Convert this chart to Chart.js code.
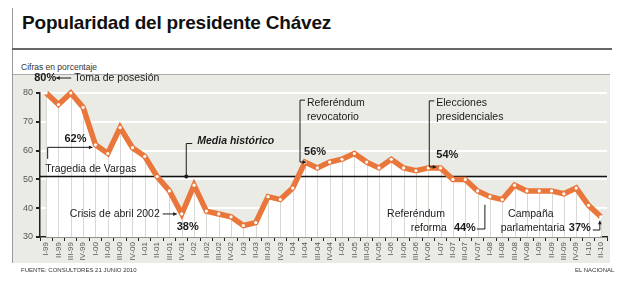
<!DOCTYPE html>
<html>
<head>
<meta charset="utf-8">
<script src="https://cdn.jsdelivr.net/npm/chart.js@4.4.1/dist/chart.umd.min.js"></script>
<style>
  body { margin: 0; background: #fff; font-family: "Liberation Sans", Arial, sans-serif; }
  #hoja { position: relative; width: 622px; height: 284px; overflow: hidden; background: #fff; }
  .borde { position: absolute; left: 12px; top: 8px; width: 1px; height: 255px; background: #9a9a9a; }
  h1 { position: absolute; left: 22px; top: 13px; margin: 0; font-size: 19px; line-height: 1; font-weight: bold; color: #111; letter-spacing: -0.2px; }
  .raya { position: absolute; left: 12px; top: 48px; width: 600px; height: 2px; background: #666; }
  .cifras { position: absolute; left: 21px; top: 63px; font-size: 8.5px; line-height: 1; color: #333; }
  .panel { position: absolute; left: 13px; top: 74px; width: 597px; height: 188px; background: #ebebe6; border-top: 1px solid #aaa; }
  canvas { position: absolute; left: 0; top: 0; }
  .fuente { position: absolute; left: 21px; top: 267px; font-size: 6px; line-height: 1; color: #333; }
  .medio { position: absolute; left: 575px; top: 267px; font-size: 6px; line-height: 1; color: #333; }
</style>
</head>
<body>
<div id="hoja">
  <div class="borde"></div>
  <h1>Popularidad del presidente Chávez</h1>
  <div class="raya"></div>
  <div class="cifras">Cifras en porcentaje</div>
  <div class="panel"></div>
  <canvas id="grafico" width="622" height="284"></canvas>
  <div class="fuente">FUENTE: CONSULTORES 21 JUNIO 2010</div>
  <div class="medio">EL NACIONAL</div>
</div>
<script>
// Trimestres de I-99 a II-10
const trimestres = [
  'I-99', 'II-99', 'III-99', 'IV-99',
  'I-00', 'II-00', 'III-00', 'IV-00',
  'I-01', 'II-01', 'III-01', 'IV-01',
  'I-02', 'II-02', 'III-02', 'IV-02',
  'I-03', 'II-03', 'III-03', 'IV-03',
  'I-04', 'II-04', 'III-04', 'IV-04',
  'I-05', 'II-05', 'III-05', 'IV-05',
  'I-06', 'II-06', 'III-06', 'IV-06',
  'I-07', 'II-07', 'III-07', 'IV-07',
  'I-08', 'II-08', 'III-08', 'IV-08',
  'I-09', 'II-09', 'III-09', 'IV-09',
  'I-10', 'II-10'
];

// Popularidad en porcentaje
const popularidad = [
  80, 76, 80, 75,
  62, 59, 68, 61,
  58, 51, 46, 38,
  48, 39, 38, 37,
  34, 35, 44, 43,
  47, 56, 54, 56,
  57, 59, 56, 54,
  57, 54, 53, 54,
  54, 50, 50, 46,
  44, 43, 48, 46,
  46, 46, 45, 47,
  41, 37
];

const mediaHistorica = 51;
const marcasEjeY = [30, 40, 50, 60, 70, 80];

const naranja = '#e9773b';
const fuente = '"Liberation Sans", Arial, sans-serif';

// dibuja una flecha simple
function flecha(ctx, x1, y1, x2, y2) {
  ctx.beginPath();
  ctx.moveTo(x1, y1);
  ctx.lineTo(x2, y2);
  ctx.stroke();
  const ang = Math.atan2(y2 - y1, x2 - x1);
  ctx.beginPath();
  ctx.moveTo(x2, y2);
  ctx.lineTo(x2 - 4 * Math.cos(ang - 0.5), y2 - 4 * Math.sin(ang - 0.5));
  ctx.lineTo(x2 - 4 * Math.cos(ang + 0.5), y2 - 4 * Math.sin(ang + 0.5));
  ctx.closePath();
  ctx.fill();
}

function texto(ctx, t, x, y, estilo, alinear) {
  ctx.font = estilo + ' ' + fuente;
  ctx.textAlign = alinear || 'left';
  ctx.textBaseline = 'middle';
  ctx.fillText(t, x, y);
}

const anotaciones = {
  id: 'anotaciones',
  beforeDatasetDraw(chart) {
    // rayas verticales bajo la curva y la línea de la media
    const { ctx, chartArea, scales: { y } } = chart;
    const puntos = chart.getDatasetMeta(0).data;
    ctx.save();
    ctx.strokeStyle = '#d9d9d4';
    ctx.lineWidth = 1;
    puntos.forEach(p => {
      const px = Math.round(p.x) + 0.5;
      ctx.beginPath();
      ctx.moveTo(px, chartArea.bottom);
      ctx.lineTo(px, p.y);
      ctx.stroke();
    });
    const ym = y.getPixelForValue(mediaHistorica);
    ctx.strokeStyle = '#111';
    ctx.lineWidth = 1.5;
    ctx.beginPath();
    ctx.moveTo(chartArea.left, ym);
    ctx.lineTo(chartArea.right, ym);
    ctx.stroke();
    ctx.restore();
  },
  afterDatasetsDraw(chart) {
    const { ctx, scales: { x, y } } = chart;
    const p = chart.getDatasetMeta(0).data;
    ctx.save();
    ctx.fillStyle = '#1a1a1a';
    ctx.strokeStyle = '#1a1a1a';
    ctx.lineWidth = 1;

    // Toma de posesión
    texto(ctx, '80%', p[0].x - 12, p[0].y - 15, 'bold 11px');
    flecha(ctx, p[0].x + 25, p[0].y - 15, p[0].x + 10, p[0].y - 15);
    texto(ctx, 'Toma de posesión', p[0].x + 28, p[0].y - 15, '10.5px');

    // Tragedia de Vargas
    texto(ctx, '62%', p[4].x - 31, p[4].y - 6, 'bold 11px');
    ctx.beginPath();
    ctx.moveTo(p[0].x + 1.5, p[4].y + 14);
    ctx.lineTo(p[0].x + 1.5, p[4].y + 2.5);
    ctx.stroke();
    flecha(ctx, p[0].x + 1.5, p[4].y + 2.5, p[4].x - 3, p[4].y + 2.5);
    texto(ctx, 'Tragedia de Vargas', p[0].x - 1, p[4].y + 24, '10.5px');

    // Crisis de abril 2002
    texto(ctx, 'Crisis de abril 2002', p[11].x - 22, p[11].y, '10.5px', 'right');
    flecha(ctx, p[11].x - 19, p[11].y, p[11].x - 5, p[11].y);
    texto(ctx, '38%', p[11].x - 5, p[11].y + 13, 'bold 11px');

    // Media histórico
    const ym = y.getPixelForValue(mediaHistorica);
    const xm = p[11].x + 4.5;
    ctx.beginPath();
    ctx.moveTo(xm + 6, ym - 33);
    ctx.lineTo(xm, ym - 33);
    ctx.lineTo(xm, ym);
    ctx.stroke();
    ctx.beginPath();
    ctx.arc(xm, ym, 2, 0, Math.PI * 2);
    ctx.fill();
    texto(ctx, 'Media histórico', xm + 11, ym - 35, 'italic bold 10.5px');

    // Referéndum revocatorio
    const xr = p[21].x - 5;
    ctx.beginPath();
    ctx.moveTo(xr + 5, p[21].y - 62);
    ctx.lineTo(xr, p[21].y - 62);
    ctx.lineTo(xr, p[21].y);
    ctx.stroke();
    flecha(ctx, xr, p[21].y, xr + 6, p[21].y);
    texto(ctx, 'Referéndum', xr + 7, p[21].y - 59, '10.5px');
    texto(ctx, 'revocatorio', xr + 7, p[21].y - 45, '10.5px');
    texto(ctx, '56%', xr + 4, p[21].y - 10, 'bold 11px');

    // Elecciones presidenciales
    const xe = p[31].x + 1;
    ctx.beginPath();
    ctx.moveTo(xe + 5, p[31].y - 67);
    ctx.lineTo(xe, p[31].y - 67);
    ctx.lineTo(xe, p[31].y - 1);
    ctx.stroke();
    flecha(ctx, xe, p[31].y - 1, xe + 7, p[31].y - 1);
    texto(ctx, 'Elecciones', xe + 7, p[31].y - 65, '10.5px');
    texto(ctx, 'presidenciales', xe + 7, p[31].y - 51, '10.5px');
    texto(ctx, '54%', xe + 7, p[31].y - 13, 'bold 11px');

    // Referéndum reforma
    const xf = p[36].x - 5;
    const yf = y.getPixelForValue(30) - 9;
    ctx.beginPath();
    ctx.moveTo(xf - 8, yf + 1);
    ctx.lineTo(xf, yf + 1);
    ctx.lineTo(xf, p[36].y + 8);
    ctx.stroke();
    texto(ctx, 'Referéndum', xf - 40, yf - 14, '10.5px', 'right');
    texto(ctx, 'reforma', xf - 38, yf, '10.5px', 'right');
    texto(ctx, '44%', xf - 9, yf, 'bold 11px', 'right');

    // Campaña parlamentaria
    texto(ctx, 'Campaña', p[45].x - 70, yf - 14, '10.5px', 'center');
    texto(ctx, 'parlamentaria', p[45].x - 36, yf, '10.5px', 'right');
    texto(ctx, '37%', p[45].x - 10, yf, 'bold 11px', 'right');
    ctx.beginPath();
    ctx.moveTo(p[45].x - 8, yf + 2);
    ctx.lineTo(p[45].x - 1, yf + 2);
    ctx.stroke();
    flecha(ctx, p[45].x - 1, yf + 2, p[45].x - 1, p[45].y + 4);

    ctx.restore();
  }
};

new Chart(document.getElementById('grafico'), {
  type: 'line',
  data: {
    labels: trimestres,
    datasets: [{
      data: popularidad,
      borderColor: naranja,
      borderWidth: 5.5,
      pointRadius: 1.6,
      pointBackgroundColor: '#fff',
      pointBorderWidth: 0,
      fill: 'start',
      backgroundColor: '#fff',
      tension: 0,
      clip: 8
    }]
  },
  options: {
    responsive: false,
    animation: false,
    layout: { padding: { left: 20, top: 93, right: 15, bottom: 22 } },
    plugins: { legend: { display: false }, tooltip: { enabled: false } },
    scales: {
      x: {
        offset: true,
        grid: { offset: true, drawOnChartArea: false, color: '#222', tickColor: '#222', tickLength: 4 },
        border: { color: '#222', width: 1.5 },
        ticks: { autoSkip: false, maxRotation: 90, minRotation: 90, color: '#555', padding: 1, font: { size: 8, family: fuente } },
        afterFit: s => { s.height = 25; }
      },
      y: {
        min: 30,
        max: 80,
        afterBuildTicks: s => { s.ticks = marcasEjeY.map(v => ({ value: v })); },
        grid: { color: '#fff', lineWidth: 2, tickColor: '#222', tickLength: 4 },
        border: { color: '#222', width: 1.5 },
        ticks: { color: '#555', padding: 3, font: { size: 9, family: fuente } },
        afterFit: s => { s.width = 20; }
      }
    }
  },
  plugins: [anotaciones]
});
</script>
</body>
</html>
